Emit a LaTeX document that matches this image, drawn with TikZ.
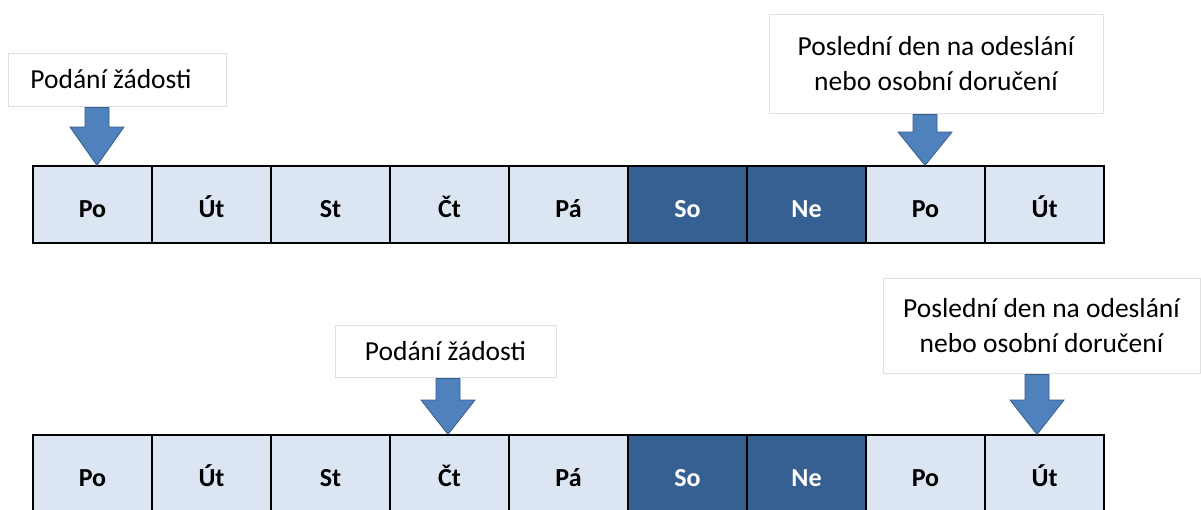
\documentclass[tikz,border=0pt]{standalone}
\usepackage{fontspec}
\setmainfont{Carlito}
\usetikzlibrary{positioning,calc}
\definecolor{lightcell}{HTML}{DCE6F2}
\definecolor{darkcell}{HTML}{366092}
\definecolor{arrowfill}{HTML}{4F81BD}
\definecolor{arrowline}{HTML}{385D8A}
\begin{document}
\begin{tikzpicture}[x=1pt,y=-1pt,
  daycell/.style={draw=black,line width=1.2pt,fill=lightcell,minimum width=119pt,minimum height=77pt,
    inner sep=0pt,text height=26pt,text depth=0pt,font=\fontsize{26}{30}\selectfont\bfseries,text=black},
  wkcell/.style={daycell,fill=darkcell,text=white},
  labelbox/.style={draw=black!12,line width=0.8pt,fill=white,inner sep=0pt,align=center,
    font=\fontsize{27.5}{35}\selectfont},
  blockarrow/.style={fill=arrowfill,draw=arrowline,line width=0.8pt,line join=miter}
]
\useasboundingbox (0,0) rectangle (1201,509);
% top row
\foreach \n/\t/\s [count=\i from 0] in {a1/Po/daycell,a2/Út/daycell,a3/St/daycell,a4/Čt/daycell,a5/Pá/daycell,a6/So/wkcell,a7/Ne/wkcell,a8/Po/daycell,a9/Út/daycell}{
  \node[\s] (\n) at ({92.5+119*\i},204.5) {\t};
}
% bottom row
\foreach \n/\t/\s [count=\i from 0] in {b1/Po/daycell,b2/Út/daycell,b3/St/daycell,b4/Čt/daycell,b5/Pá/daycell,b6/So/wkcell,b7/Ne/wkcell,b8/Po/daycell,b9/Út/daycell}{
  \node[\s] (\n) at ({92.5+119*\i},473.5) {\t};
}
% label boxes
\node[labelbox,minimum width=218pt,minimum height=53pt] (l1) at (117,79.5) {Podání žádosti\hspace*{12pt}};
\node[labelbox,minimum width=334pt,minimum height=99pt] (l2) at (936,63.5) {Poslední den na odeslání\\nebo osobní doručení};
\node[labelbox,minimum width=221pt,minimum height=52pt] (l3) at (445.5,351) {Podání žádosti};
\node[labelbox,minimum width=317pt,minimum height=95pt] (l4) at (1041.5,325.5) {Poslední den na odeslání\\nebo osobní doručení};
% block arrows
\coordinate (c1) at (97,0);
\coordinate (c2) at (925,0);
\coordinate (c3) at (448,0);
\coordinate (c4) at (1037,0);
\draw[blockarrow] ($(c1|-l1.south)+(-12,1)$) -- ++(24,0) -- ($(c1)+(12,127)$) -- ($(c1)+(27,127)$) -- (c1|-a1.north) -- ($(c1)+(-27,127)$) -- ($(c1)+(-12,127)$) -- cycle;
\draw[blockarrow] ($(c2|-l2.south)+(-12,1)$) -- ++(24,0) -- ($(c2)+(12,132)$) -- ($(c2)+(27,132)$) -- (c2|-a8.north) -- ($(c2)+(-27,132)$) -- ($(c2)+(-12,132)$) -- cycle;
\draw[blockarrow] ($(c3|-l3.south)+(-12,1)$) -- ++(24,0) -- ($(c3)+(12,400)$) -- ($(c3)+(27,400)$) -- (c3|-b4.north) -- ($(c3)+(-27,400)$) -- ($(c3)+(-12,400)$) -- cycle;
\draw[blockarrow] ($(c4|-l4.south)+(-12,1)$) -- ++(24,0) -- ($(c4)+(12,400)$) -- ($(c4)+(27,400)$) -- (c4|-b9.north) -- ($(c4)+(-27,400)$) -- ($(c4)+(-12,400)$) -- cycle;
\end{tikzpicture}
\end{document}
